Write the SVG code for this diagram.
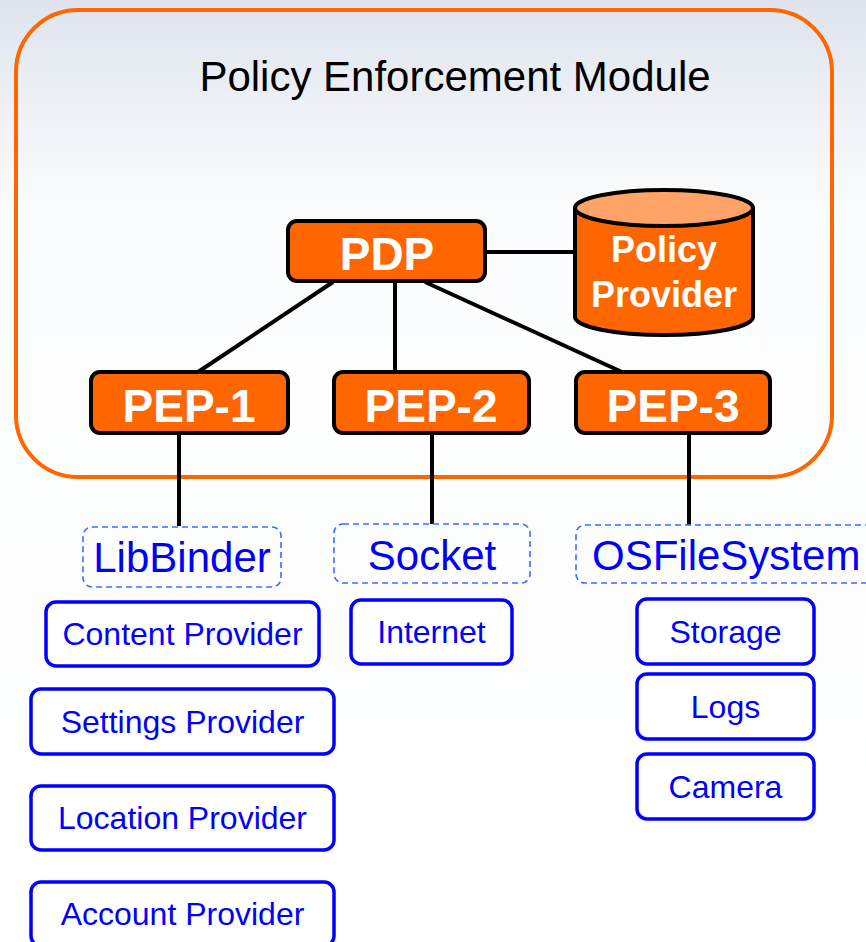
<svg xmlns="http://www.w3.org/2000/svg" width="866" height="942" viewBox="0 0 866 942">
<defs>
<linearGradient id="bg" x1="0" y1="0" x2="0" y2="1">
<stop offset="0" stop-color="#dfe4ee"/>
<stop offset="0.22" stop-color="#fbfcfd"/>
<stop offset="1" stop-color="#ffffff"/>
</linearGradient>
<style>
.pep{fill:#ff6600;stroke:#000;stroke-width:4}
.wt{fill:#fff;font-family:"Liberation Sans",Arial,sans-serif;font-weight:bold;text-anchor:middle}
.dash{fill:none;stroke:#3b6cff;stroke-width:1.6;stroke-dasharray:6 4}
.res{fill:#fff;stroke:#0000ff;stroke-width:3.5}
.bt{fill:#0000ff;font-family:"Liberation Sans",Arial,sans-serif;text-anchor:middle}
.ln{stroke:#000;stroke-width:4;fill:none}
.title{fill:#000;font-family:"Liberation Sans",Arial,sans-serif;text-anchor:middle}
</style>
</defs>
<rect x="0" y="0" width="866" height="942" fill="url(#bg)"/>
<g id="module">
<rect x="16" y="10" width="816" height="467" rx="62" ry="62" fill="none" stroke="#ff6600" stroke-width="4"/>
<text class="title" x="455" y="91" font-size="42">Policy Enforcement Module</text>
</g>
<g id="connectors">
<line class="ln" x1="486" y1="252" x2="574" y2="252"/>
<line class="ln" x1="333" y1="282" x2="198" y2="372"/>
<line class="ln" x1="395" y1="282" x2="395" y2="372"/>
<line class="ln" x1="425" y1="282" x2="622" y2="372"/>
<line class="ln" x1="179" y1="433" x2="179" y2="526"/>
<line class="ln" x1="432" y1="433" x2="432" y2="524"/>
<line class="ln" x1="689" y1="433" x2="689" y2="525"/>
</g>
<g id="pdp">
<rect class="pep" x="288" y="221" width="197" height="60" rx="9"/>
<text class="wt" x="387" y="270" font-size="46">PDP</text>
</g>
<g id="policy-provider">
<path d="M575,208 L575,317 A89,18 0 0 0 753,317 L753,208" fill="#ff6600" stroke="#000" stroke-width="4"/>
<ellipse cx="664" cy="208" rx="89" ry="18" fill="#ffa366" stroke="#000" stroke-width="4"/>
<text class="wt" x="664" y="262" font-size="36">Policy</text>
<text class="wt" x="664" y="307" font-size="36">Provider</text>
</g>
<g id="pep1">
<rect class="pep" x="91" y="372" width="197" height="61" rx="9"/>
<text class="wt" x="189" y="422" font-size="46">PEP-1</text>
</g>
<g id="pep2">
<rect class="pep" x="334" y="372" width="195" height="61" rx="9"/>
<text class="wt" x="431" y="422" font-size="46">PEP-2</text>
</g>
<g id="pep3">
<rect class="pep" x="576" y="372" width="194" height="61" rx="9"/>
<text class="wt" x="673" y="422" font-size="46">PEP-3</text>
</g>
<g id="libbinder">
<rect class="dash" x="83" y="527" width="198" height="60" rx="9"/>
<text class="bt" x="182" y="572" font-size="42">LibBinder</text>
</g>
<g id="socket">
<rect class="dash" x="334" y="524" width="196" height="59" rx="9"/>
<text class="bt" x="432" y="570" font-size="42">Socket</text>
</g>
<g id="osfilesystem">
<rect class="dash" x="576" y="525" width="310" height="58" rx="9"/>
<text class="bt" x="592" y="570" font-size="42" style="text-anchor:start">OSFileSystem</text>
</g>
<g id="content-provider">
<rect class="res" x="46" y="602" width="273" height="64" rx="10"/>
<text class="bt" x="182.5" y="645" font-size="32">Content Provider</text>
</g>
<g id="settings-provider">
<rect class="res" x="31" y="689" width="303" height="65" rx="10"/>
<text class="bt" x="182.5" y="733" font-size="32">Settings Provider</text>
</g>
<g id="location-provider">
<rect class="res" x="31" y="786" width="303" height="64" rx="10"/>
<text class="bt" x="182.5" y="829" font-size="32">Location Provider</text>
</g>
<g id="account-provider">
<rect class="res" x="31" y="882" width="303" height="64" rx="10"/>
<text class="bt" x="182.5" y="925" font-size="32">Account Provider</text>
</g>
<g id="internet">
<rect class="res" x="351" y="600" width="161" height="64" rx="10"/>
<text class="bt" x="431.5" y="643" font-size="32">Internet</text>
</g>
<g id="storage">
<rect class="res" x="637" y="599" width="177" height="65" rx="10"/>
<text class="bt" x="725.5" y="643" font-size="32">Storage</text>
</g>
<g id="logs">
<rect class="res" x="637" y="674" width="177" height="65" rx="10"/>
<text class="bt" x="725.5" y="718" font-size="32">Logs</text>
</g>
<g id="camera">
<rect class="res" x="637" y="754" width="177" height="65" rx="10"/>
<text class="bt" x="725.5" y="798" font-size="32">Camera</text>
</g>
</svg>
